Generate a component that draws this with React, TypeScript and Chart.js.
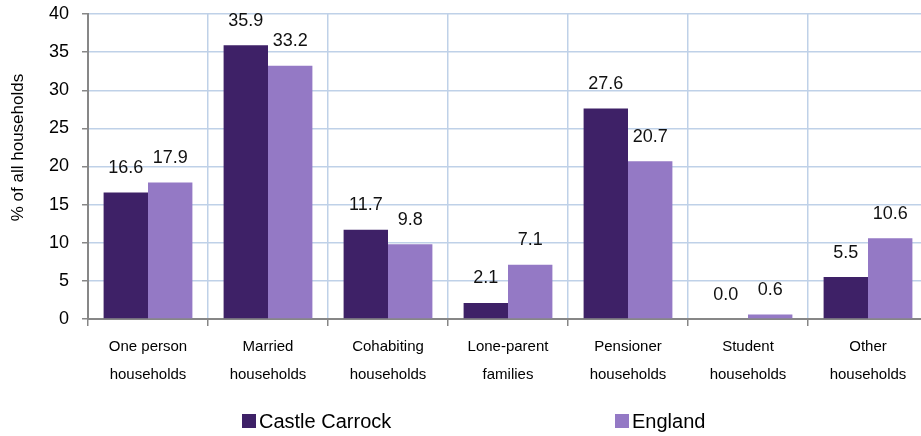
import React, { useEffect, useRef } from 'react';
import { Chart, registerables } from 'chart.js';

Chart.register(...registerables);

const categories: string[][] = [
  ['One person', 'households'],
  ['Married', 'households'],
  ['Cohabiting', 'households'],
  ['Lone-parent', 'families'],
  ['Pensioner', 'households'],
  ['Student', 'households'],
  ['Other', 'households'],
];
const seriesNames = ['Castle Carrock', 'England'];
const castleCarrock = [16.6, 35.9, 11.7, 2.1, 27.6, 0.0, 5.5];
const england = [17.9, 33.2, 9.8, 7.1, 20.7, 0.6, 10.6];
const yMin = 0;
const yMax = 40;
const yStep = 5;
const yTitle = '% of all households';

const FONT = '"Liberation Sans", Arial, sans-serif';
const DARK = '#3e2167';
const LIGHT = '#9479c5';
const GRID = '#bfd1e8';
const AXIS = '#878787';

const dataLabelPlugin = {
  id: 'dataLabels',
  afterDatasetsDraw(chart: any) {
    const ctx = chart.ctx;
    ctx.save();
    ctx.font = `18px ${FONT}`;
    ctx.fillStyle = '#111';
    ctx.textAlign = 'center';
    ctx.textBaseline = 'alphabetic';
    chart.data.datasets.forEach((ds: any, i: number) => {
      const meta = chart.getDatasetMeta(i);
      meta.data.forEach((el: any, j: number) => {
        const v = ds.data[j] as number;
        ctx.fillText(v.toFixed(1), el.x, el.y - 19.5);
      });
    });
    ctx.restore();
  },
};

const yTitlePlugin = {
  id: 'yTitle',
  afterDraw(chart: any, _args: any, opts: any) {
    const ctx = chart.ctx;
    const area = chart.chartArea;
    ctx.save();
    ctx.font = `17px ${FONT}`;
    ctx.fillStyle = '#000';
    ctx.textAlign = 'center';
    ctx.textBaseline = 'middle';
    ctx.translate(opts.x, (area.top + area.bottom) / 2 + opts.dy);
    ctx.rotate(-Math.PI / 2);
    ctx.fillText(opts.text, 0, 0);
    ctx.restore();
  },
};

const customLegendPlugin = {
  id: 'customLegend',
  afterDraw(chart: any, _args: any, opts: any) {
    const ctx = chart.ctx;
    ctx.save();
    ctx.font = `20px ${FONT}`;
    ctx.textBaseline = 'middle';
    ctx.textAlign = 'left';
    chart.data.datasets.forEach((ds: any, i: number) => {
      const x = opts.xs[i];
      const y = opts.y;
      ctx.fillStyle = ds.backgroundColor;
      ctx.fillRect(x, y, opts.box, opts.box);
      ctx.fillStyle = '#000';
      ctx.fillText(ds.label, x + opts.box + 3, y + opts.box / 2 + 1);
    });
    ctx.restore();
  },
};

export default function App() {
  const ref = useRef<HTMLCanvasElement | null>(null);

  useEffect(() => {
    document.body.style.margin = '0';
    const canvas = ref.current;
    if (!canvas) return;
    const chart = new Chart(canvas, {
      type: 'bar',
      data: {
        labels: categories,
        datasets: [
          {
            label: seriesNames[0],
            data: castleCarrock,
            backgroundColor: DARK,
            barPercentage: 1,
            categoryPercentage: 0.74,
          },
          {
            label: seriesNames[1],
            data: england,
            backgroundColor: LIGHT,
            barPercentage: 1,
            categoryPercentage: 0.74,
          },
        ],
      },
      options: {
        animation: false,
        responsive: false,
        devicePixelRatio: 1,
        layout: { padding: { top: 14, left: 0, right: 0, bottom: 37 } },
        plugins: {
          legend: { display: false },
          tooltip: { enabled: false },
          customLegend: { xs: [242, 615], y: 414, box: 14 },
          yTitle: { text: yTitle, x: 18, dy: -19 },
        } as any,
        scales: {
          x: {
            offset: true,
            grid: {
              offset: true,
              color: GRID,
              lineWidth: 1.5,
              tickColor: AXIS,
              tickLength: 7,
              tickWidth: 1.5,
            },
            border: { color: AXIS, width: 2 },
            ticks: {
              color: '#000',
              padding: 7,
              font: { family: FONT, size: 15, lineHeight: 1.867 },
              maxRotation: 0,
              autoSkip: false,
            },
            afterFit(scale: any) {
              scale.height = 80;
              scale.paddingLeft = 0;
              scale.paddingRight = 0;
            },
          },
          y: {
            min: yMin,
            max: yMax,
            ticks: {
              stepSize: yStep,
              color: '#000',
              padding: 13,
              font: { family: FONT, size: 18 },
            },
            grid: {
              color: GRID,
              lineWidth: 1.5,
              tickColor: AXIS,
              tickLength: 6,
              tickWidth: 1.5,
            },
            border: { color: AXIS, width: 2 },
            afterFit(scale: any) {
              scale.width = 88;
              scale.paddingTop = 0;
              scale.paddingBottom = 0;
            },
          },
        },
      },
      plugins: [dataLabelPlugin, yTitlePlugin, customLegendPlugin],
    });
    return () => chart.destroy();
  }, []);

  return (
    <div style={{ width: 921, height: 436, overflow: 'hidden', position: 'relative', background: '#fff' }}>
      <canvas ref={ref} width={928} height={436} style={{ display: 'block', width: 928, height: 436 }} />
    </div>
  );
}
